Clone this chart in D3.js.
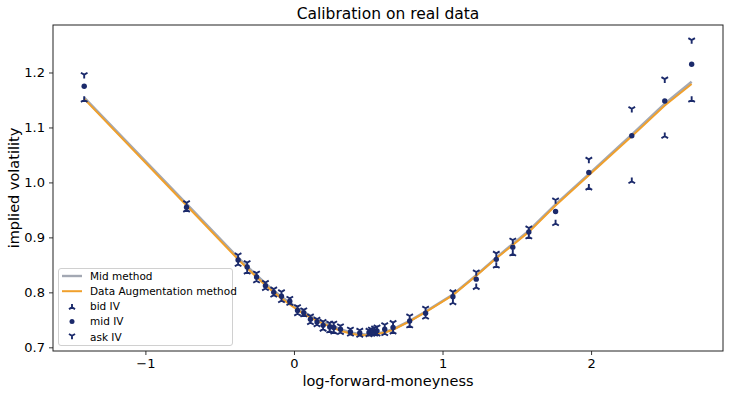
<!DOCTYPE html>
<html>
<head>
<meta charset="utf-8">
<script src="https://cdn.jsdelivr.net/npm/d3@7"></script>
<style>
  body { margin: 0; background: #fff; }
  svg { font-family: "DejaVu Sans", sans-serif; }
</style>
</head>
<body>
<div id="chart"></div>
<script>
// log-forward-moneyness of each quote
var moneyness = [-1.412, -0.723, -0.376, -0.315, -0.252, -0.192, -0.136, -0.084, -0.028, 0.024,
  0.066, 0.111, 0.155, 0.196, 0.241, 0.268, 0.313, 0.380, 0.443, 0.505,
  0.521, 0.543, 0.559, 0.611, 0.667, 0.779, 0.886, 1.070, 1.227, 1.362,
  1.473, 1.581, 1.761, 1.985, 2.274, 2.496, 2.677];
var bidIV = [1.150, 0.950, 0.851, 0.837, 0.821, 0.807, 0.795, 0.785, 0.780, 0.761,
  0.759, 0.745, 0.741, 0.733, 0.730, 0.728, 0.727, 0.724, 0.722, 0.723,
  0.724, 0.724, 0.724, 0.725, 0.728, 0.739, 0.755, 0.781, 0.809, 0.848,
  0.870, 0.901, 0.925, 0.990, 1.002, 1.084, 1.150];
var midIV = [1.175, 0.955, 0.859, 0.846, 0.828, 0.812, 0.800, 0.793, 0.784, 0.767,
  0.763, 0.751, 0.746, 0.740, 0.737, 0.736, 0.733, 0.728, 0.726, 0.727,
  0.729, 0.729, 0.730, 0.733, 0.736, 0.748, 0.762, 0.792, 0.824, 0.860,
  0.882, 0.910, 0.947, 1.018, 1.085, 1.148, 1.215];
var askIV = [1.196, 0.963, 0.868, 0.854, 0.835, 0.818, 0.806, 0.801, 0.789, 0.774,
  0.768, 0.757, 0.751, 0.747, 0.744, 0.744, 0.739, 0.733, 0.731, 0.731,
  0.733, 0.735, 0.737, 0.741, 0.745, 0.757, 0.771, 0.801, 0.837, 0.871,
  0.895, 0.917, 0.968, 1.042, 1.134, 1.188, 1.259];
// calibrated smiles
var midMethod = [1.154, 0.961, 0.863, 0.847, 0.831, 0.816, 0.803, 0.792, 0.781, 0.771,
  0.764, 0.757, 0.751, 0.746, 0.741, 0.738, 0.733, 0.727, 0.724, 0.723,
  0.723, 0.724, 0.725, 0.728, 0.733, 0.748, 0.765, 0.796, 0.831, 0.863,
  0.888, 0.912, 0.960, 1.015, 1.087, 1.143, 1.183];
var dataAug = [1.152, 0.958, 0.860, 0.844, 0.828, 0.813, 0.800, 0.789, 0.778, 0.768,
  0.761, 0.754, 0.748, 0.743, 0.738, 0.735, 0.730, 0.725, 0.722, 0.722,
  0.722, 0.723, 0.724, 0.727, 0.732, 0.747, 0.764, 0.795, 0.830, 0.862,
  0.886, 0.910, 0.958, 1.013, 1.084, 1.140, 1.179];
var xTicks = [-1, 0, 1, 2];
var yTicks = [0.7, 0.8, 0.9, 1.0, 1.1, 1.2];

const width = 729, height = 396;
const margin = {top: 25, right: 6, bottom: 45, left: 53};
const navy = "#1b2a6b", orange = "#f0a02c", grey = "#a3a8b3";

const svg = d3.select("#chart").append("svg")
  .attr("width", width).attr("height", height);

const x = d3.scaleLinear().domain([-1.622, 2.888]).range([margin.left, width - margin.right]);
const y = d3.scaleLinear().domain([0.6933, 1.2864]).range([height - margin.bottom, margin.top]);

const pts = moneyness.map((m, i) => ({m: m, bid: bidIV[i], mid: midIV[i], ask: askIV[i], mm: midMethod[i], da: dataAug[i]}));

// title and labels
svg.append("text").attr("x", (margin.left + width - margin.right) / 2).attr("y", 19)
  .attr("text-anchor", "middle").style("font-size", "15.5px").text("Calibration on real data");
svg.append("text").attr("x", (margin.left + width - margin.right) / 2).attr("y", 386)
  .attr("text-anchor", "middle").style("font-size", "14.5px").text("log-forward-moneyness");
svg.append("text").attr("transform", "translate(19," + (margin.top + height - margin.bottom) / 2 + ") rotate(-90)")
  .attr("text-anchor", "middle").style("font-size", "14.5px").text("implied volatility");

// axes
const xAxis = svg.append("g").attr("transform", `translate(0,${height - margin.bottom})`)
  .call(d3.axisBottom(x).tickValues(xTicks).tickSize(4).tickPadding(4).tickFormat(d => d < 0 ? "\u2212" + Math.abs(d) : d));
const yAxis = svg.append("g").attr("transform", `translate(${margin.left},0)`)
  .call(d3.axisLeft(y).tickValues(yTicks).tickSize(4).tickPadding(4).tickFormat(d3.format(".1f")));
[xAxis, yAxis].forEach(function(g){
  g.selectAll("text").style("font-size", "13px").attr("fill", "#000").style("font-family", "DejaVu Sans");
  g.selectAll("line").attr("stroke", "#333");
  g.select(".domain").remove();
});

// lines
const lineMM = d3.line().x(d => x(d.m)).y(d => y(d.mm));
const lineDA = d3.line().x(d => x(d.m)).y(d => y(d.da));
svg.append("path").datum(pts).attr("d", lineMM).attr("fill", "none").attr("stroke", grey).attr("stroke-width", 2.6);
svg.append("path").datum(pts).attr("d", lineDA).attr("fill", "none").attr("stroke", orange).attr("stroke-width", 2);

// markers
function triUp(g, cx, cy, s) {
  g.append("path").attr("d", `M${cx},${cy}L${cx},${cy - s}M${cx},${cy}L${cx - s * 0.87},${cy + s * 0.5}M${cx},${cy}L${cx + s * 0.87},${cy + s * 0.5}`)
    .attr("stroke", navy).attr("stroke-width", 1.9).attr("fill", "none");
}
function triDown(g, cx, cy, s) {
  g.append("path").attr("d", `M${cx},${cy}L${cx},${cy + s}M${cx},${cy}L${cx - s * 0.87},${cy - s * 0.5}M${cx},${cy}L${cx + s * 0.87},${cy - s * 0.5}`)
    .attr("stroke", navy).attr("stroke-width", 1.9).attr("fill", "none");
}
const mk = svg.append("g");
pts.forEach(function(d){ triUp(mk, x(d.m), y(d.bid), 3.8); });
mk.selectAll("circle").data(pts).join("circle")
  .attr("cx", d => x(d.m)).attr("cy", d => y(d.mid)).attr("r", 2.7).attr("fill", navy);
pts.forEach(function(d){ triDown(mk, x(d.m), y(d.ask), 3.8); });

// frame
svg.append("rect").attr("x", margin.left).attr("y", margin.top)
  .attr("width", width - margin.right - margin.left).attr("height", height - margin.bottom - margin.top)
  .attr("fill", "none").attr("stroke", "#222").attr("stroke-width", 1);

// legend
const lg = svg.append("g");
lg.append("rect").attr("x", 58.5).attr("y", 268.5).attr("width", 174).attr("height", 77).attr("rx", 2.5)
  .attr("fill", "#fff").attr("fill-opacity", 0.8).attr("stroke", "#d0d0d0");
const items = [
  {label: "Mid method", kind: "line", color: grey},
  {label: "Data Augmentation method", kind: "line", color: orange},
  {label: "bid IV", kind: "bid"},
  {label: "mid IV", kind: "mid"},
  {label: "ask IV", kind: "ask"}
];
items.forEach(function(it, i){
  const cy = 276 + i * 15.2;
  if (it.kind == "line") {
    lg.append("line").attr("x1", 62).attr("x2", 82).attr("y1", cy).attr("y2", cy)
      .attr("stroke", it.color).attr("stroke-width", it.color == grey ? 2.4 : 2);
  } else if (it.kind == "bid") {
    triUp(lg, 72, cy + 1, 3.5);
  } else if (it.kind == "mid") {
    lg.append("circle").attr("cx", 72).attr("cy", cy).attr("r", 2.5).attr("fill", navy);
  } else {
    triDown(lg, 72, cy - 1, 3.5);
  }
  lg.append("text").attr("x", 90).attr("y", cy + 3.8).style("font-size", "10.5px").text(it.label);
});
</script>
</body>
</html>
